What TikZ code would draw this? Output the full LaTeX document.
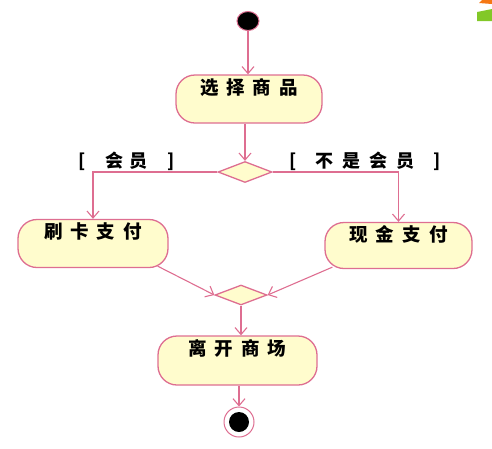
\documentclass[tikz,border=0pt]{standalone}
\usepackage{fontspec}
\newfontfamily\cjk{Noto Sans CJK SC}
\usetikzlibrary{arrows.meta,shapes.geometric}
\definecolor{lp}{RGB}{222,110,145}
\definecolor{fy}{RGB}{255,252,205}
\definecolor{dgreen}{RGB}{130,200,40}
\definecolor{dorange}{RGB}{245,120,20}
\begin{document}
\begin{tikzpicture}[x=1pt,y=-1pt,
  act/.style={draw=lp, fill=fy, line width=1.3pt, rounded corners=19pt,
    minimum width=#1, text height=16pt, text depth=26pt, inner ysep=3pt, inner xsep=0pt,
    font=\cjk\bfseries\fontsize{18.5}{18.5}\selectfont},
  dec/.style={diamond, draw=lp, fill=fy, line width=1.3pt, minimum width=#1,
    minimum height=21pt, inner sep=0pt},
  flow/.style={draw=lp, line width=1.1pt, -{Straight Barb[length=7pt,width=12pt]}},
  guard/.style={font=\cjk\bfseries\fontsize{18}{18}\selectfont, inner sep=0pt}]
\useasboundingbox (0,0) rectangle (492,448);
% background decoration
\fill[dorange] (482,0) -- (492,0) -- (492,4) -- (479,3) -- cycle;
\fill[dgreen] (477,12) -- (492,9) -- (492,21) -- (477,21) -- cycle;
% nodes
\node[ellipse, draw=lp, fill=black, line width=1pt, minimum width=22pt, minimum height=19pt, inner sep=0pt] (start) at (248,21) {};
\node[act=146pt] (a1) at (249,99) {选\hspace{8pt}择\hspace{8pt}商\hspace{8pt}品};
\node[dec=54pt] (d1) at (245,172) {};
\node[act=150pt, minimum height=47pt] (a2) at (93,243.5) {刷\hspace{8pt}卡\hspace{8pt}支\hspace{8pt}付};
\node[act=147pt, minimum height=45pt, text depth=24pt] (a3) at (398.5,245.5) {现\hspace{8pt}金\hspace{8pt}支\hspace{8pt}付};
\node[dec=52pt, minimum height=20pt] (d2) at (241,295) {};
\node[act=159pt, minimum height=49pt] (a4) at (237.5,360.5) {离\hspace{8pt}开\hspace{8pt}商\hspace{8pt}场};
\node[circle, draw=lp, fill=white, line width=1pt, minimum size=30pt, inner sep=0pt] (end) at (239,422) {};
\node[circle, fill=black, minimum size=20pt, inner sep=0pt] (endin) at (end) {};
% guards
\node[guard] (g1) at (127,161) {[\hspace{20pt}会\hspace{6pt}员\hspace{20pt}]};
\node[guard] (g2) at (365,161) {[\hspace{19pt}不\hspace{9pt}是\hspace{9pt}会\hspace{9pt}员\hspace{19pt}]};
% connectors
\draw[flow] (start) -- (start |- a1.north);
\draw[flow] (d1.north |- a1.south) -- (d1.north);
\draw[flow] (d1.west) -| (a2.north);
\draw[flow] (d1.east) -| (a3.north);
\draw[flow] ([xshift=-11pt,yshift=2pt]a2.south east) -- (d2.west);
\draw[flow] ([xshift=8pt,yshift=2pt]a3.south west) -- (d2.east);
\draw[flow] (d2.south) -- (d2.south |- a4.north);
\draw[flow] (end |- a4.south) -- (end.north);
\end{tikzpicture}
\end{document}
